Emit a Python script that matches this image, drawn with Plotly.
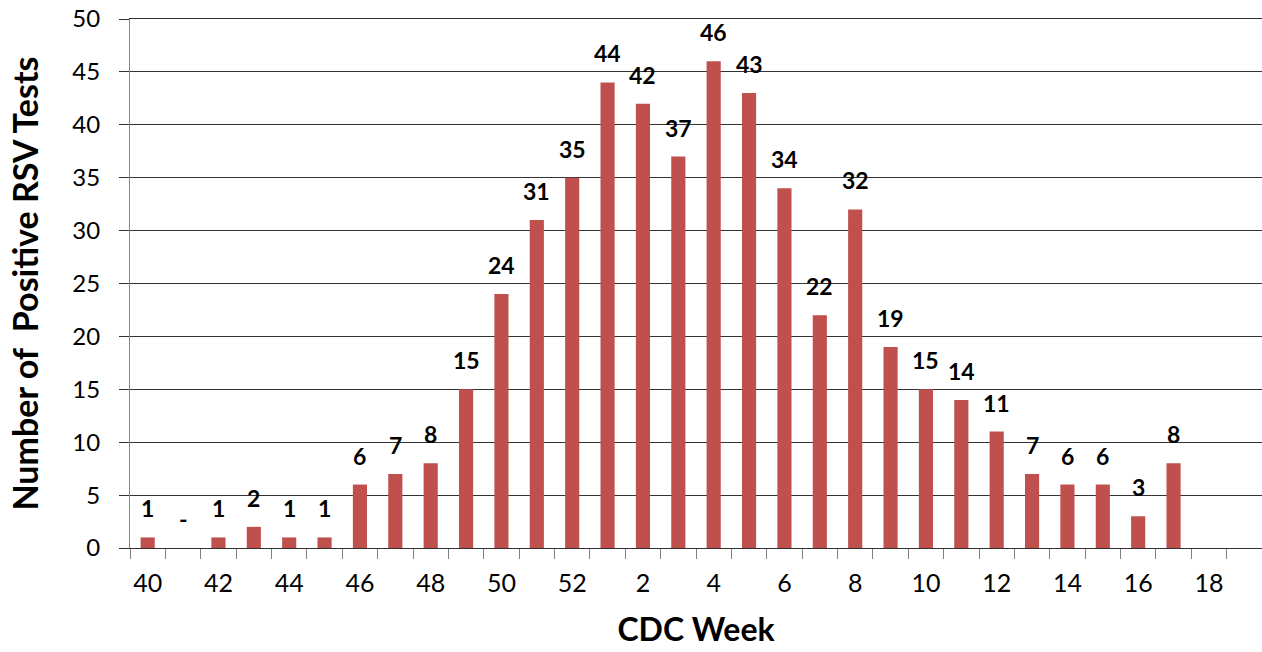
import plotly.graph_objects as go

weeks = ["40", "41", "42", "43", "44", "45", "46", "47", "48", "49", "50", "51", "52",
         "1", "2", "3", "4", "5", "6", "7", "8", "9", "10", "11", "12", "13", "14",
         "15", "16", "17", "18"]
positives = [1, 0, 1, 2, 1, 1, 6, 7, 8, 15, 24, 31, 35,
             44, 42, 37, 46, 43, 34, 22, 32, 19, 15, 14, 11, 7, 6,
             6, 3, 8, None]
labels = ["1", "-", "1", "2", "1", "1", "6", "7", "8", "15", "24", "31", "35",
          "44", "42", "37", "46", "43", "34", "22", "32", "19", "15", "14", "11", "7", "6",
          "6", "3", "8", ""]
tick_labels = [w if i % 2 == 0 else "" for i, w in enumerate(weeks)]

FONT = "Lato, Carlito, Calibri, sans-serif"

fig = go.Figure()
fig.add_trace(go.Bar(
    x=weeks, y=positives,
    marker=dict(color="#C0504D", line=dict(width=0)),
    hoverinfo="x+y",
))

# annotations placed by category index (avoid numeric-string parsing)
for i, (v, t) in enumerate(zip(positives, labels)):
    if t == "":
        continue
    fig.add_annotation(
        x=i, y=v if v is not None else 0, text=t, showarrow=False,
        xanchor="center", yanchor="bottom", yshift=13,
        font=dict(family=FONT, size=23, color="#000000", weight="bold"),
    )

fig.update_layout(
    width=1262, height=652,
    margin=dict(l=130, r=0, t=19, b=104),
    paper_bgcolor="white", plot_bgcolor="white",
    bargap=0.6,
    showlegend=False,
    font=dict(family=FONT, color="#000000"),
)

fig.update_xaxes(
    type="category", automargin=False,
    categoryorder="array", categoryarray=weeks,
    range=[-0.5, 31.5],
    tickmode="array", tickvals=weeks, ticktext=tick_labels,
    tickson="boundaries", tickangle=0,
    ticks="outside", ticklen=10, tickcolor="#7f7f7f", tickwidth=1,
    ticklabelstandoff=13,
    showline=True, mirror=True, linecolor="#333333", linewidth=1,
    showgrid=False,
    tickfont=dict(family=FONT, size=25, color="#000000"),
    title=dict(text="CDC Week", standoff=22,
               font=dict(family=FONT, size=32, color="#000000", weight="bold")),
)

fig.update_yaxes(
    range=[0, 50], dtick=5, tick0=0, automargin=False,
    ticks="outside", ticklen=10, tickcolor="#333333", tickwidth=1,
    ticklabelstandoff=14, ticklabeloverflow="allow",
    showline=True, linecolor="#868686", linewidth=1,
    showgrid=True, gridcolor="#333333", gridwidth=1,
    zeroline=False,
    tickfont=dict(family=FONT, size=24, color="#000000"),
    title=dict(text="Number of \u00a0Positive RSV Tests", standoff=23,
               font=dict(family=FONT, size=34, color="#000000", weight="bold")),
)

# remove the browser's default 8px body margin so the figure fills the window
fig.write_html("out.html", config={"displayModeBar": False},
               post_script="document.body.style.margin='0';")
